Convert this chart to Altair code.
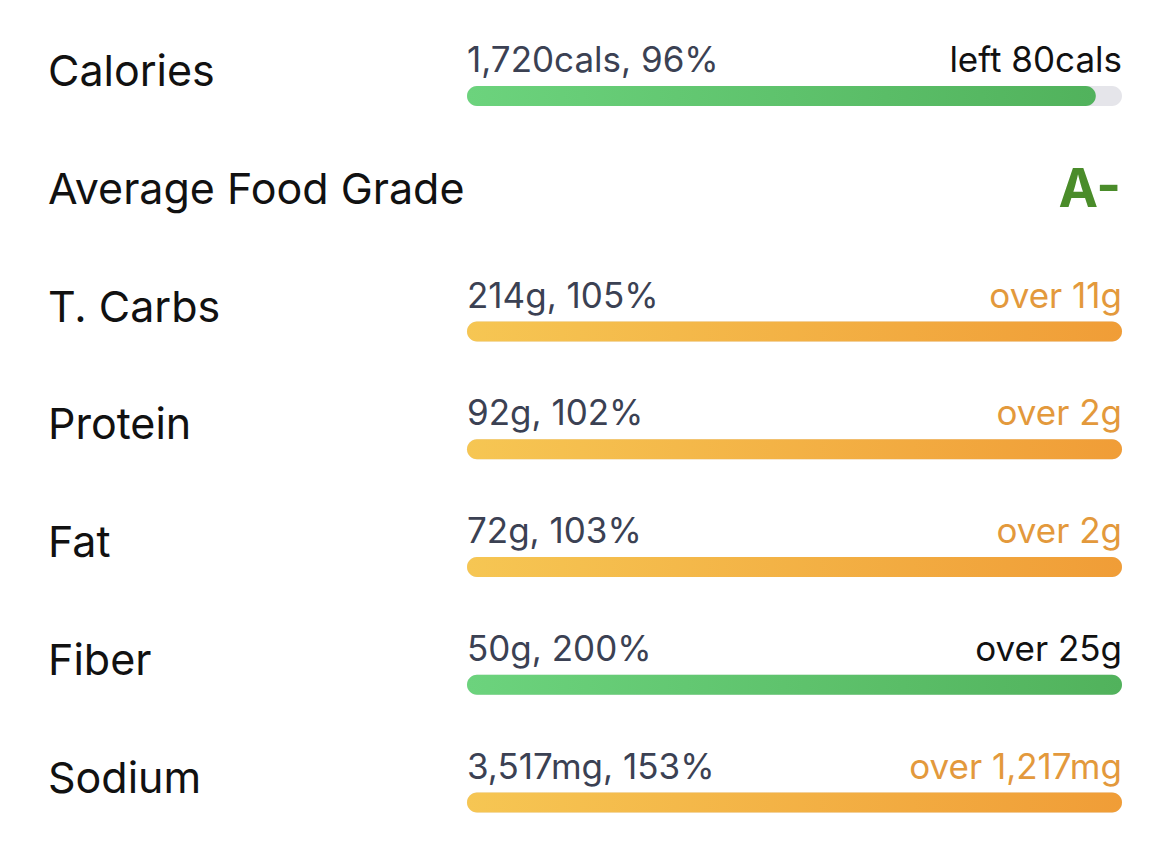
import altair as alt
import pandas as pd

nutrients = ["Calories", "Average Food Grade", "T. Carbs", "Protein", "Fat", "Fiber", "Sodium"]
value_labels = ["1,720cals, 96%", "", "214g, 105%", "92g, 102%", "72g, 103%", "50g, 200%", "3,517mg, 153%"]
percents = [96, None, 105, 102, 103, 200, 153]
remain_labels = ["left 80cals", "", "over 11g", "over 2g", "over 2g", "over 25g", "over 1,217mg"]
status = ["good", "grade", "over", "over", "over", "good", "over"]
remain_color = ["#111111", "#ffffff", "#E3993C", "#E3993C", "#E3993C", "#111111", "#E3993C"]
grade = "A-"

df = pd.DataFrame({
    "row": list(range(len(nutrients))),
    "nutrient": nutrients,
    "value_label": value_labels,
    "pct": percents,
    "remain": remain_labels,
    "status": status,
    "rcolor": remain_color,
})
df["fill_to"] = df["pct"].clip(upper=100)
df["track"] = 100

FONT = "Inter"
xs = alt.Scale(domain=[0, 100], range=[459, 1114], padding=0, nice=False)
ys = alt.Scale(domain=[0, 6], range=[88, 794.5], padding=0, nice=False)

base = alt.Chart(df)
bars_df = base.transform_filter("datum.status != 'grade'")

track = bars_df.mark_bar(size=20, cornerRadius=10, color="#E5E5EA", orient="horizontal").encode(
    x=alt.X("x0:Q", scale=xs, axis=None),
    x2="track:Q",
    y=alt.Y("row:Q", scale=ys, axis=None),
).transform_calculate(x0="0")

green = alt.Gradient(gradient="linear", x1=0, x2=1, y1=0, y2=0,
                     stops=[alt.GradientStop(color="#6CD37D", offset=0),
                            alt.GradientStop(color="#51B25C", offset=1)])
orange = alt.Gradient(gradient="linear", x1=0, x2=1, y1=0, y2=0,
                      stops=[alt.GradientStop(color="#F6C653", offset=0),
                             alt.GradientStop(color="#F09D37", offset=1)])

good_bars = base.transform_filter("datum.status == 'good'").transform_calculate(x0="0").mark_bar(
    size=20, cornerRadius=10, fill=green, orient="horizontal").encode(
    x=alt.X("x0:Q", scale=xs, axis=None), x2="fill_to:Q",
    y=alt.Y("row:Q", scale=ys, axis=None))

over_bars = base.transform_filter("datum.status == 'over'").transform_calculate(x0="0").mark_bar(
    size=20, cornerRadius=10, fill=orange, orient="horizontal").encode(
    x=alt.X("x0:Q", scale=xs, axis=None), x2="fill_to:Q",
    y=alt.Y("row:Q", scale=ys, axis=None))

names = base.mark_text(align="left", baseline="alphabetic", font=FONT, fontSize=43,
                       color="#111111", dy=-10).encode(
    x=alt.value(40), y=alt.Y("row:Q", scale=ys, axis=None), text="nutrient:N")

vals = bars_df.mark_text(align="left", baseline="alphabetic", font=FONT, fontSize=35,
                         color="#3B4153", dy=-24).encode(
    x=alt.value(459), y=alt.Y("row:Q", scale=ys, axis=None), text="value_label:N")

rems = bars_df.mark_text(align="right", baseline="alphabetic", font=FONT, fontSize=35,
                         dy=-24).encode(
    x=alt.value(1114), y=alt.Y("row:Q", scale=ys, axis=None), text="remain:N",
    color=alt.Color("rcolor:N", scale=None))

grade_txt = base.transform_filter("datum.status == 'grade'").transform_calculate(g=f"'{grade}'").mark_text(
    align="right", baseline="alphabetic", font=FONT, fontSize=53, fontWeight="bold",
    color="#4A8C2A", dy=-7).encode(
    x=alt.value(1113), y=alt.Y("row:Q", scale=ys, axis=None), text="g:N")

chart = alt.layer(track, good_bars, over_bars, names, vals, rems, grade_txt).properties(
    width=1154, height=825, autosize=alt.AutoSizeParams(type="none"), padding=0,
    background="#ffffff"
).configure_view(stroke=None)

chart.save("out.html", embed_options={"renderer": "svg", "actions": False})
